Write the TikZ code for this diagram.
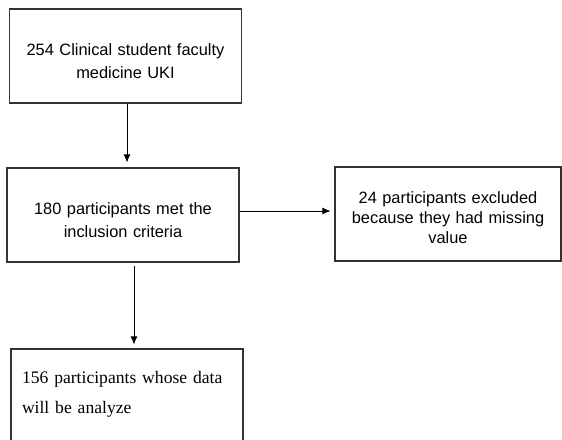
\documentclass[tikz,border=0pt]{standalone}
\usepackage{fontspec}
\setmainfont{Liberation Sans}
\newfontfamily\serifface{Liberation Serif}
\usetikzlibrary{arrows.meta,shapes}

\begin{document}
\begin{tikzpicture}[x=1pt, y=-1pt, >={Latex[length=8pt,width=7pt]},
    box/.style={draw=black!80, line width=1.1pt, minimum width=232pt, minimum height=94pt,
        inner xsep=11pt, text width=210pt, align=center,
        font=\fontsize{16.4}{23}\selectfont, text height=23pt}]
% page frame of the flow chart
    \useasboundingbox (0,0) rectangle (562,439);

    \node[box] (count) at (125.5,56) {254 Clinical student faculty\\ medicine UKI};
    \node[box] (included) at (123,215) {180 participants met the\\ inclusion criteria};
    \node[box, minimum width=226pt, text width=204pt, font=\fontsize{16.4}{20}\selectfont,
        text height=18.6pt] (excluded) at (448,214) {24 participants excluded\\ because they had missing\\ value};
    \node[box, align=left, font=\serifface\fontsize{17.6}{30}\selectfont, text height=8pt]
        (analyzed) at (127,396) {156 participants whose data\\ will be analyze};

    % arrows between the boxes
    \draw[->, line width=0.8pt, shorten >=5pt] ([xshift=1.5pt]count.south) -- ([xshift=1.5pt]count.south |- included.north);
    \draw[->, line width=0.8pt, shorten >=4pt] ([yshift=4pt]included.east) -- ([yshift=4pt]included.east -| excluded.west);
    \draw[->, line width=0.8pt, shorten <=3pt, shorten >=4pt] ([xshift=11pt]included.south) -- ([xshift=11pt]included.south |- analyzed.north);
\end{tikzpicture}
\end{document}
